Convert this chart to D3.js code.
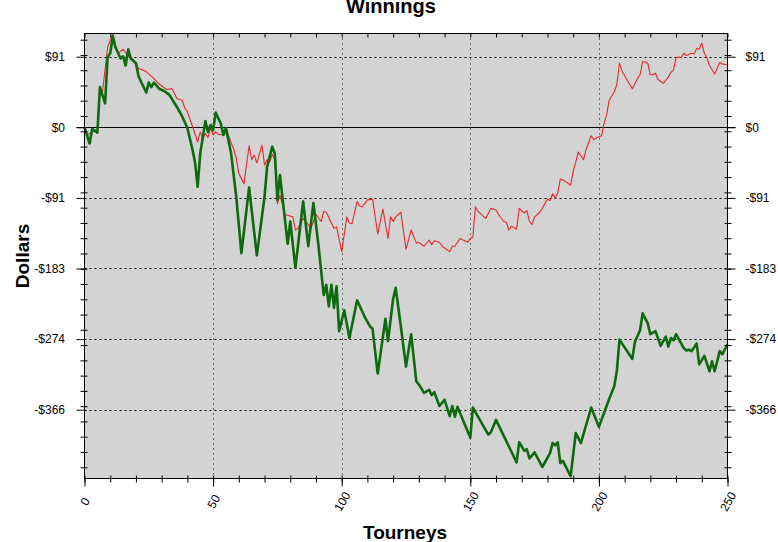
<!DOCTYPE html>
<html><head><meta charset="utf-8">
<script src="https://cdn.jsdelivr.net/npm/d3@7"></script>
<style>body{margin:0;background:#fff} svg{display:block}</style>
</head><body><svg id="c" width="778" height="542"></svg>
<script>
// ---- data ----
const greenTourneys = [0,2,3,5,6,8,9,10,11,12,14,15,16,17,18,20,21,22,24,25,26,27,29,31,33,36,38,40,42,43,44,45,47,48,49,50,51,53,54,55,57,59,61,64,67,70,71,73,74,75,76,79,80,82,85,87,89,91,93,94,95,96,97,98,99,101,103,106,109,111,112,114,117,118,120,121,123,125,127,129,130,132,134,135,136,138,140,142,143,144,145,150,151,157,158,160,168,169,171,172,173,175,178,181,182,183,184,185,186,189,191,193,197,200,202,204,206,207,208,213,214,216,217,219,220,222,224,226,227,228,229,230,233,234,235,236,238,239,241,243,244,245,247,248,250];
const greenValues = [0,-21,-2,-7,52,31,91,96,118,104,89,92,80,101,89,83,66,59,45,58,52,58,50,47,42,26,14,-1,-29,-46,-77,-34,8,-6,3,-4,19,5,-10,-1,-34,-90,-163,-78,-166,-90,-51,-25,-34,-94,-62,-151,-122,-182,-96,-154,-98,-154,-217,-204,-232,-204,-234,-206,-264,-237,-273,-224,-246,-258,-261,-319,-248,-277,-222,-208,-258,-310,-268,-329,-333,-344,-340,-347,-343,-361,-353,-374,-361,-375,-362,-402,-363,-398,-395,-379,-434,-408,-419,-417,-429,-421,-440,-422,-409,-412,-408,-435,-432,-452,-396,-409,-363,-388,-370,-352,-335,-315,-275,-300,-278,-263,-241,-254,-268,-264,-283,-271,-284,-273,-276,-268,-286,-289,-288,-290,-280,-307,-296,-316,-303,-316,-290,-294,-281];

const redTourneys = [0,1,3,4,5,6,7,9,11,12,13,15,17,19,21,23,24,27,29,32,34,36,38,39,40,42,44,45,46,47,48,49,50,51,52,54,55,57,58,59,60,62,64,65,66,67,69,70,71,72,73,74,75,76,78,81,82,83,85,87,88,90,92,93,94,97,98,100,102,103,104,106,107,108,110,112,114,116,118,119,120,121,123,125,127,129,130,132,134,135,136,138,139,142,143,144,146,149,150,151,152,153,156,158,160,161,163,164,165,166,168,169,171,172,173,174,175,177,178,180,181,182,183,184,185,187,189,190,191,192,194,195,197,198,199,201,202,203,204,206,207,208,209,211,213,215,216,217,218,219,220,221,222,223,225,227,228,229,230,231,232,233,234,236,237,238,239,240,241,242,243,245,247,248,250];
const redValues = [0,-10,-6,-3,-6,52,46,104,121,106,96,101,92,87,76,74,72,63,56,49,50,37,35,25,20,1,-19,-6,-15,-8,-13,-1,-10,-6,-9,-10,-1,-20,-28,-40,-60,-73,-24,-42,-36,-46,-23,-49,-42,-45,-35,-42,-99,-88,-113,-116,-133,-131,-118,-126,-131,-113,-122,-109,-110,-131,-129,-161,-116,-124,-125,-96,-102,-103,-94,-93,-138,-106,-144,-116,-122,-116,-110,-158,-133,-150,-149,-154,-146,-152,-147,-149,-154,-161,-154,-154,-144,-149,-144,-142,-103,-109,-118,-105,-107,-113,-122,-123,-133,-128,-132,-105,-111,-108,-122,-126,-116,-110,-105,-93,-95,-86,-92,-85,-67,-70,-75,-57,-45,-32,-42,-29,-11,-16,-14,-11,5,16,35,46,56,83,73,61,50,63,68,85,85,83,68,68,70,62,57,65,71,74,90,91,90,96,93,96,95,102,101,109,96,90,80,69,84,82,81];

const xTickValues = [0,50,100,150,200,250];
const xTickLabels = ["0","50","100","150","200","250"];
const yTickValues = [91.44,0,-91.44,-182.88,-274.32,-365.76];
const yTickLabels = ["$91","$0","-$91","-$183","-$274","-$366"];

// ---- layout ----
const L=84.5, R=727.5, T=33.5, B=478.5;
const svg = d3.select("#c");
const x = d3.scaleLinear().domain([0,250]).range([L,R]);
const y = d3.scaleLinear().domain([-454.9,121.5]).range([B,T]);
const tickFont = '"Liberation Sans Narrow","Arial Narrow","Liberation Sans",Arial,sans-serif';
const boldFont = '"Liberation Sans",Arial,sans-serif';

svg.append("rect").attr("x",L).attr("y",T).attr("width",R-L).attr("height",B-T).attr("fill","#d3d3d3");

// grid
const g = svg.append("g");
g.selectAll("line.h").data(yTickValues.filter(v=>v!==0)).join("line")
  .attr("x1",L).attr("x2",R).attr("y1",d=>Math.round(y(d))+0.5).attr("y2",d=>Math.round(y(d))+0.5)
  .attr("stroke","#000").attr("stroke-dasharray","2,3");
g.selectAll("line.v").data(xTickValues.filter(v=>v>0&&v<250)).join("line")
  .attr("x1",d=>Math.round(x(d))+0.5).attr("x2",d=>Math.round(x(d))+0.5).attr("y1",T).attr("y2",B)
  .attr("stroke","#000").attr("stroke-dasharray","1,4");
g.append("line").attr("x1",L-8).attr("x2",R+8).attr("y1",Math.round(y(0))+0.5).attr("y2",Math.round(y(0))+0.5).attr("stroke","#000");

// series
const line = d3.line().x(d=>x(d[0])).y(d=>y(d[1]));
const red = redTourneys.map((t,i)=>[t,redValues[i]]);
const green = greenTourneys.map((t,i)=>[t,greenValues[i]]);
svg.append("path").datum(red).attr("d",line).attr("fill","none").attr("stroke","#e8282b").attr("stroke-width",1.1).attr("stroke-linejoin","round");
svg.append("path").datum(green).attr("d",line).attr("fill","none").attr("stroke","#0d6a0d").attr("stroke-width",2.6).attr("stroke-linejoin","round");

// frame
svg.append("rect").attr("x",L).attr("y",T).attr("width",R-L).attr("height",B-T).attr("fill","none").attr("stroke","#000");

// minor ticks
const minorY = d3.range(113.5,-456,-19.78);
const minorX = d3.range(0,251,10);
function styleAxis(sel){ sel.select(".domain").remove(); sel.selectAll("line").attr("stroke","#000"); }
svg.append("g").attr("transform",`translate(${L+3},0)`).call(d3.axisLeft(y).tickValues(minorY).tickSize(7).tickFormat("")).call(styleAxis);
svg.append("g").attr("transform",`translate(${R-3},0)`).call(d3.axisRight(y).tickValues(minorY).tickSize(7).tickFormat("")).call(styleAxis);
svg.append("g").attr("transform",`translate(0,${B-3})`).call(d3.axisBottom(x).tickValues(minorX).tickSize(7).tickFormat("")).call(styleAxis);
svg.append("g").attr("transform",`translate(0,${T})`).call(d3.axisTop(x).tickValues(minorX).tickSize(-4).tickFormat("")).call(styleAxis);

// major axes
const yl = svg.append("g").attr("transform",`translate(${L},0)`)
  .call(d3.axisLeft(y).tickValues(yTickValues).tickSize(8).tickPadding(11.5).tickFormat((d,i)=>yTickLabels[i])).call(styleAxis);
const yr = svg.append("g").attr("transform",`translate(${R},0)`)
  .call(d3.axisRight(y).tickValues(yTickValues).tickSize(8).tickPadding(10).tickFormat((d,i)=>yTickLabels[i])).call(styleAxis);
const xb = svg.append("g").attr("transform",`translate(0,${B})`)
  .call(d3.axisBottom(x).tickValues(xTickValues).tickSize(8).tickFormat((d,i)=>xTickLabels[i])).call(styleAxis);
[yl,yr,xb].forEach(a=>a.selectAll("text").attr("fill","#000").style("font-family",tickFont).style("font-size","12px"));
xb.selectAll("text").attr("y",0).attr("dy","0.35em").attr("transform","translate(0,23) rotate(-60)").style("text-anchor","middle");

// titles
svg.append("text").attr("x",391).attr("y",13).attr("text-anchor","middle").style("font-family",boldFont).style("font-weight","bold").style("font-size","20px").text("Winnings");
svg.append("text").attr("x",405).attr("y",539).attr("text-anchor","middle").style("font-family",boldFont).style("font-weight","bold").style("font-size","19px").text("Tourneys");
svg.append("text").attr("transform","translate(29,256) rotate(-90)").attr("text-anchor","middle").style("font-family",boldFont).style("font-weight","bold").style("font-size","19px").text("Dollars");
</script></body></html>
